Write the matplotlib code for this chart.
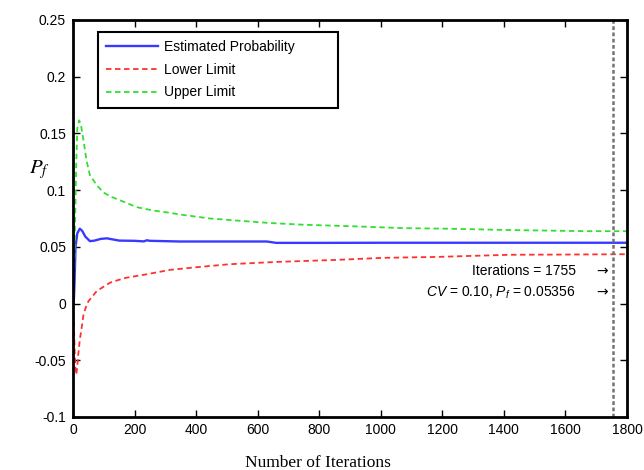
import matplotlib
matplotlib.use('Agg')
import matplotlib.pyplot as plt

# values
est_iter = [1, 3, 5, 8, 14, 22, 30, 40, 55, 70, 90, 110, 130, 150, 200, 230, 240, 250,
            300, 348, 500, 630, 660, 800, 1000, 1200, 1400, 1600, 1800]
est_prob = [0.0, 0.005, 0.02, 0.05, 0.062, 0.066, 0.064, 0.059, 0.055, 0.0555, 0.057,
            0.0575, 0.0565, 0.0555, 0.0553, 0.0548, 0.0558, 0.0553, 0.055, 0.0547, 0.0547,
            0.0547, 0.0535, 0.0535, 0.0536, 0.0536, 0.0536, 0.0536, 0.0536]

low_iter = [1, 4, 7, 10, 13, 17, 22, 28, 34, 42, 50, 65, 77, 100, 120, 150, 174, 239,
            315, 400, 510, 662, 857, 1008, 1181, 1420, 1600, 1800]
low_lim = [0.0, -0.03, -0.055, -0.0627, -0.058, -0.045, -0.032, -0.0214, -0.0096, -0.003,
           0.002, 0.007, 0.011, 0.015, 0.0184, 0.021, 0.0228, 0.0258, 0.0297, 0.032, 0.0347,
           0.0367, 0.0385, 0.0403, 0.0411, 0.043, 0.0432, 0.0435]

up_iter = [1, 6, 10, 14, 20, 26, 34, 44, 55, 77, 98, 125, 153, 207, 260, 315, 348, 445,
           540, 640, 747, 922, 1072, 1214, 1420, 1669, 1800]
up_lim = [0.0, 0.06, 0.12, 0.155, 0.1615, 0.157, 0.144, 0.126, 0.113, 0.1045, 0.098, 0.094,
          0.091, 0.085, 0.082, 0.080, 0.0785, 0.075, 0.073, 0.071, 0.0695, 0.068, 0.0665,
          0.066, 0.0648, 0.0638, 0.0638]

stop_iter = 1755
x_ticks = [0, 200, 400, 600, 800, 1000, 1200, 1400, 1600, 1800]
y_ticks = [-0.1, -0.05, 0, 0.05, 0.1, 0.15, 0.2, 0.25]
y_tick_labels = ['-0.1', '-0.05', '0', '0.05', '0.1', '0.15', '0.2', '0.25']

plt.rcParams['font.family'] = 'Liberation Sans'
plt.rcParams['mathtext.fontset'] = 'custom'
plt.rcParams['mathtext.rm'] = 'Liberation Sans'
plt.rcParams['mathtext.it'] = 'Liberation Sans:italic'

fig = plt.figure(figsize=(6.44, 4.70), dpi=100)
ax = fig.add_axes([0.1134, 0.1128, 0.8602, 0.8447])

ax.plot(est_iter, est_prob, color='#3a3aff', lw=1.7, label='Estimated Probability')
ax.plot(low_iter, low_lim, color='#ff3030', lw=1.3, ls=(0, (3, 2)), label='Lower Limit')
ax.plot(up_iter, up_lim, color='#30e030', lw=1.3, ls=(0, (3, 2)), label='Upper Limit')
ax.axvline(stop_iter, color='0.45', lw=1.8, ls=(0, (1.5, 1)))

ax.set_xlim(0, 1800)
ax.set_ylim(-0.1, 0.25)
ax.set_xticks(x_ticks)
ax.set_yticks(y_ticks)
ax.set_yticklabels(y_tick_labels)
ax.tick_params(direction='in', length=5, width=1, top=True, right=True,
               labelsize=10, pad=5)
ax.tick_params(axis='x', pad=4)
for s in ax.spines.values():
    s.set_linewidth(2)

ax.set_xlabel('Number of Iterations', family='Liberation Serif', fontsize=12.5)
ax.xaxis.set_label_coords(0.442, -0.096)
ax.set_ylabel('$P_f$', rotation=0, fontsize=15, math_fontfamily='stix')
ax.yaxis.set_label_coords(-0.06, 0.595)

ax.text(0.908, 0.367, 'Iterations = 1755', transform=ax.transAxes,
        ha='right', va='center', fontsize=10)
ax.text(0.908, 0.313, '$CV$ = 0.10, $P_f$ = 0.05356', transform=ax.transAxes,
        ha='right', va='center', fontsize=10)
for yy in [0.367, 0.313]:
    ax.text(0.955, yy, '→', transform=ax.transAxes, ha='center', va='center',
            fontsize=10, family='DejaVu Sans')

leg = ax.legend(loc='upper left', bbox_to_anchor=(0.045, 0.783, 0.433, 0.187),
                mode='expand', fancybox=False, edgecolor='black', fontsize=10,
                handlelength=3.7, handletextpad=0.45, labelspacing=0.62,
                borderpad=0.6, borderaxespad=0, framealpha=1)
leg.get_frame().set_linewidth(1.5)

fig.savefig('out.png', dpi=100)
